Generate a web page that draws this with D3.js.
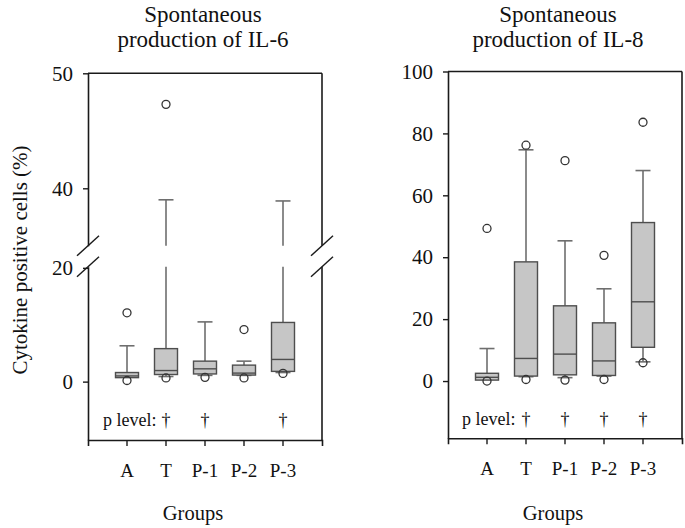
<!DOCTYPE html>
<html><head><meta charset="utf-8">
<script src="https://cdn.jsdelivr.net/npm/d3@7"></script>
<style>
body{margin:0;background:#fff;}
svg{display:block;}
</style></head>
<body>
<svg id="chart" width="685" height="528"></svg>
<script>
// ---- data ----
const groups = ["A", "T", "P-1", "P-2", "P-3"];
const pSig6 = ["T", "P-1", "P-3"];
const pSig8 = ["T", "P-1", "P-2", "P-3"];

// IL-6 (%): lower whisker, Q1, median, Q3, upper whisker
const il6Low  = [0.7, 0.9, 1.1, 1.1, 1.6];
const il6Q1   = [0.7, 1.25, 1.35, 1.15, 1.8];
const il6Med  = [1.0, 1.95, 2.25, 1.5, 3.9];
const il6Q3   = [1.6, 5.8, 3.6, 2.9, 10.4];
const il6High = [6.3, 39.0, 10.5, 3.6, 38.9];
const il6Out  = [[12.1, 0.2], [47.3, 0.65], [0.75], [9.15, 0.65], [1.45]];

// IL-8 (%)
const il8Low  = [0.3, 1.4, 1.1, 1.6, 6.2];
const il8Q1   = [0.3, 1.6, 2.0, 1.8, 10.9];
const il8Med  = [1.2, 7.3, 8.7, 6.5, 25.6];
const il8Q3   = [2.5, 38.5, 24.3, 18.8, 51.2];
const il8High = [10.5, 74.7, 45.3, 29.8, 68.0];
const il8Out  = [[49.3, 0.0], [76.2, 0.5], [71.2, 0.3], [40.6, 0.5], [83.6, 5.9]];

const il6TicksUpper = [40, 50];
const il6TicksLower = [0, 20];
const il8Ticks = [0, 20, 40, 60, 80, 100];

// ---- drawing ----
const FONT = "'Liberation Serif', Tinos, 'DejaVu Serif', serif";
const svg = d3.select("#chart");
const BOX_FILL = "#c6c6c6", BOX_STROKE = "#4e4e4e", WHISK = "#6e6e6e", FRAME = "#1a1a1a";
const FONT_TICK = 21;

function txt(sel) { return sel.attr("font-family", FONT).attr("fill", "#111"); }

function makeRows(low, q1, med, q3, high, out) {
  return groups.map((g, i) => ({g, low: low[i], q1: q1[i], med: med[i], q3: q3[i], high: high[i], out: out[i]}));
}

function drawPanel(opt) {
  const g = svg.append("g");
  const x = d3.scaleBand().domain(groups).range([opt.x0, opt.x1]).paddingInner(0).paddingOuter(0.5);
  const cx = d => x(d) + x.bandwidth() / 2;
  const bw = 23, cap = 15;

  const segs = opt.segments;
  const segFor = v => segs.find(s => v >= s.lo && v <= s.hi);
  const Y = v => { const s = segFor(v); return s ? s.scale(v) : null; };

  g.append("line").attr("x1", opt.x0).attr("x2", opt.x1).attr("y1", opt.yTop).attr("y2", opt.yTop)
    .attr("stroke", FRAME).attr("stroke-width", 1.6);

  segs.forEach(s => {
    const ax = d3.axisLeft(s.scale).tickValues(s.ticks).tickSize(5).tickSizeOuter(0).tickPadding(10);
    const a = g.append("g").attr("transform", `translate(${opt.x0},0)`).call(ax);
    a.attr("font-family", FONT);
    a.select(".domain").attr("stroke", FRAME).attr("stroke-width", 1.6);
    a.selectAll(".tick line").attr("stroke", FRAME).attr("stroke-width", 1.4);
    txt(a.selectAll(".tick text")).attr("font-size", FONT_TICK);
    g.append("line").attr("x1", opt.x1).attr("x2", opt.x1)
      .attr("y1", s.scale(s.lo)).attr("y2", s.scale(s.hi))
      .attr("stroke", FRAME).attr("stroke-width", 1.6);
  });

  if (segs.length > 1) {
    const yb1 = segs[1].scale(segs[1].lo);
    const yb2 = segs[0].scale(segs[0].hi);
    [opt.x0, opt.x1].forEach(xx => {
      [yb1, yb2].forEach(yy => {
        g.append("line").attr("x1", xx - 11).attr("y1", yy + 10).attr("x2", xx + 11).attr("y2", yy - 10)
          .attr("stroke", FRAME).attr("stroke-width", 1.4);
      });
    });
  }

  const bottomY = segs[0].scale(segs[0].lo);
  const bx = d3.axisBottom(x).tickSize(6).tickSizeOuter(6).tickFormat("");
  const b = g.append("g").attr("transform", `translate(0,${bottomY})`).call(bx);
  b.select(".domain").attr("stroke", FRAME).attr("stroke-width", 1.6);
  b.selectAll(".tick line").attr("stroke", FRAME).attr("stroke-width", 1.4);

  txt(g.selectAll("text.glab").data(groups).enter().append("text").attr("class", "glab"))
    .attr("x", d => cx(d)).attr("y", bottomY + 37).attr("text-anchor", "middle")
    .attr("font-size", 19).text(d => d);

  txt(g.append("text")).attr("x", (opt.x0 + opt.x1) / 2 - 12).attr("y", 520).attr("text-anchor", "middle")
    .attr("font-size", 20.5).text("Groups");

  txt(g.append("text")).attr("x", opt.titleX).attr("y", 22).attr("text-anchor", "middle")
    .attr("font-size", 23).text("Spontaneous");
  txt(g.append("text")).attr("x", opt.titleX).attr("y", 47).attr("text-anchor", "middle")
    .attr("font-size", 23).text(opt.title);

  function vline(xx, v1, v2) {
    const a = Math.min(v1, v2), c = Math.max(v1, v2);
    segs.forEach(s => {
      const lo = Math.max(a, s.lo), hi = Math.min(c, s.hi);
      if (hi > lo) {
        g.append("line").attr("x1", xx).attr("x2", xx).attr("y1", s.scale(lo)).attr("y2", s.scale(hi))
          .attr("stroke", WHISK).attr("stroke-width", 1.6);
      }
    });
  }

  opt.rows.forEach(r => {
    const c = cx(r.g);
    vline(c, r.q3, r.high);
    vline(c, r.low, r.q1);
    g.append("line").attr("x1", c - cap / 2).attr("x2", c + cap / 2).attr("y1", Y(r.high)).attr("y2", Y(r.high))
      .attr("stroke", WHISK).attr("stroke-width", 1.6);
    if (r.low < r.q1) {
      g.append("line").attr("x1", c - cap / 2).attr("x2", c + cap / 2).attr("y1", Y(r.low)).attr("y2", Y(r.low))
        .attr("stroke", WHISK).attr("stroke-width", 1.6);
    }
    g.append("rect").attr("x", c - bw / 2).attr("width", bw)
      .attr("y", Y(r.q3)).attr("height", Y(r.q1) - Y(r.q3))
      .attr("fill", BOX_FILL).attr("stroke", BOX_STROKE).attr("stroke-width", 1.4);
    g.append("line").attr("x1", c - bw / 2).attr("x2", c + bw / 2).attr("y1", Y(r.med)).attr("y2", Y(r.med))
      .attr("stroke", BOX_STROKE).attr("stroke-width", 1.4);
    r.out.forEach(o => {
      g.append("circle").attr("cx", c).attr("cy", Y(o)).attr("r", 4)
        .attr("fill", "none").attr("stroke", "#333").attr("stroke-width", 1.3);
    });
  });

  txt(g.append("text")).attr("x", opt.x0 + opt.pX).attr("y", opt.pY).attr("font-size", 18).text("p level:");
  txt(g.selectAll("text.dag").data(opt.sig).enter().append("text").attr("class", "dag"))
    .attr("x", d => cx(d)).attr("y", opt.pY).attr("text-anchor", "middle").attr("font-size", 18).text("†");
}

const il6Lower = d3.scaleLinear().domain([-10.26, 20.2]).range([440, 266.7]);
const il6Upper = d3.scaleLinear().domain([35, 50]).range([245.8, 73.3]);
drawPanel({
  x0: 88, x1: 322, yTop: 73.3, titleX: 203, title: "production of IL-6",
  segments: [
    {scale: il6Lower, lo: -10.26, hi: 20.2, ticks: il6TicksLower},
    {scale: il6Upper, lo: 35, hi: 50, ticks: il6TicksUpper}
  ],
  rows: makeRows(il6Low, il6Q1, il6Med, il6Q3, il6High, il6Out),
  sig: pSig6, pX: 15, pY: 426
});

const il8Y = d3.scaleLinear().domain([-18.5, 100]).range([438.3, 71.5]);
drawPanel({
  x0: 448, x1: 682, yTop: 71.5, titleX: 558, title: "production of IL-8",
  segments: [{scale: il8Y, lo: -18.5, hi: 100, ticks: il8Ticks}],
  rows: makeRows(il8Low, il8Q1, il8Med, il8Q3, il8High, il8Out),
  sig: pSig8, pX: 14, pY: 425
});

txt(svg.append("text")).attr("transform", "translate(27,260) rotate(-90)").attr("text-anchor", "middle")
  .attr("font-size", 21).text("Cytokine positive cells (%)");
</script>
</body></html>
